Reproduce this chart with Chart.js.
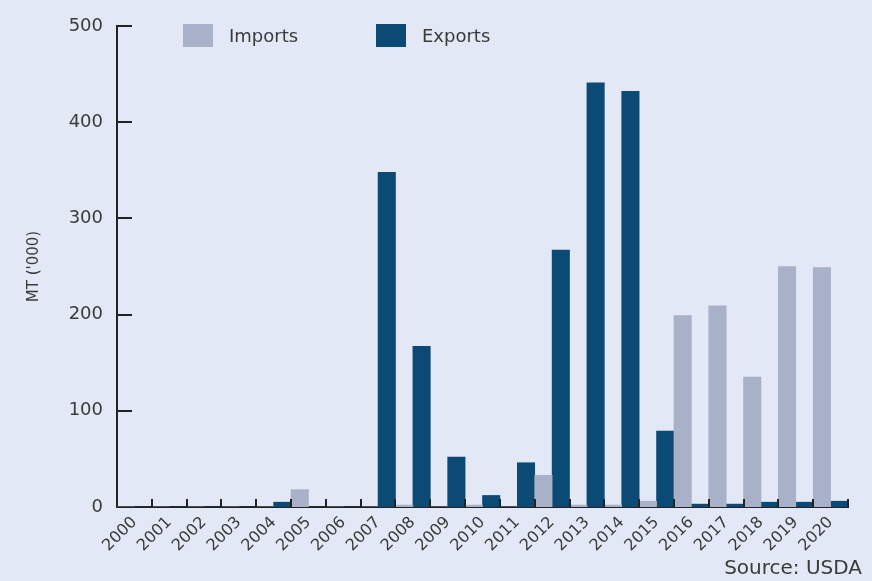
<!DOCTYPE html>
<html>
<head>
<meta charset="utf-8">
<script src="https://cdn.jsdelivr.net/npm/chart.js@4.4.0/dist/chart.umd.min.js"></script>
<style>
  html,body{margin:0;padding:0;background:#e2e8f6;}
  .wrap{position:relative;width:872px;height:581px;background:#e2e8f6;font-family:"DejaVu Sans",sans-serif;color:#3a3a3a;}
  canvas{position:absolute;left:0;top:0;}
  .legend{position:absolute;top:24px;left:183px;display:flex;align-items:center;font-size:18px;}
  .legend__item{display:flex;align-items:center;}
  .legend__swatch{display:inline-block;width:30px;height:23px;margin-right:16px;}
  .source{position:absolute;right:10px;top:555px;font-size:20px;}
</style>
</head>
<body>
<div class="wrap">
  <canvas id="chart" width="872" height="581"></canvas>
  <div class="legend" id="legend"></div>
  <div class="source">Source: USDA</div>
</div>
<script>
// ======== DATA ========
const years = ['2000','2001','2002','2003','2004','2005','2006','2007','2008','2009','2010',
               '2011','2012','2013','2014','2015','2016','2017','2018','2019','2020'];
const imports = [0,0,0,0,0,18,0,0,2,0,2,0,33,2,2,6,199,209,135,250,249];
const exports = [0,0,0,0,5,0,0,348,167,52,12,46,267,441,432,79,3,3,5,5,6];
const yTicks = [0,100,200,300,400,500];
const seriesNames = ['Imports','Exports'];
const colors = ['#a9b1c8','#0b4a74'];

// ======== custom inner tick marks ========
const innerTicks = {
  id: 'innerTicks',
  afterDraw(chart){
    const {ctx, chartArea, scales:{x, y}} = chart;
    ctx.save();
    ctx.strokeStyle = '#222';
    ctx.lineWidth = 2;
    // y ticks pointing right
    yTicks.forEach(v=>{
      if (v === 0) return;
      const py = Math.round(y.getPixelForValue(v));
      ctx.beginPath(); ctx.moveTo(chartArea.left, py); ctx.lineTo(chartArea.left + 15, py); ctx.stroke();
    });
    // x ticks at category boundaries pointing up
    const half = (x.getPixelForValue(1) - x.getPixelForValue(0)) / 2;
    years.forEach((_, i)=>{
      const px = Math.round(x.getPixelForValue(i) + half);
      ctx.beginPath(); ctx.moveTo(px, chartArea.bottom); ctx.lineTo(px, chartArea.bottom - 8); ctx.stroke();
    });
    ctx.restore();
  }
};

// ======== CHART ========
const chart = new Chart(document.getElementById('chart'), {
  type: 'bar',
  data: {
    labels: years,
    datasets: [
      { label: seriesNames[0], data: imports, backgroundColor: colors[0] },
      { label: seriesNames[1], data: exports, backgroundColor: colors[1] }
    ]
  },
  options: {
    responsive: false,
    animation: false,
    layout: { padding: { left: 25, right: 24, top: 26, bottom: 0 } },
    datasets: { bar: { categoryPercentage: 1, barPercentage: 1 } },
    plugins: { legend: { display: false }, tooltip: { enabled: false } },
    scales: {
      x: {
        grid: { display: false, drawTicks: false },
        border: { color: '#222', width: 2 },
        ticks: {
          color: '#3a3a3a', font: { family: 'DejaVu Sans', size: 16 },
          maxRotation: 45, minRotation: 45, padding: 6, autoSkip: false
        },
        afterFit: s => { s.height = 74; }
      },
      y: {
        min: 0, max: 500,
        afterBuildTicks: s => { s.ticks = yTicks.map(v => ({ value: v })); },
        grid: { display: false, drawTicks: false },
        border: { color: '#222', width: 2 },
        ticks: { color: '#3a3a3a', font: { family: 'DejaVu Sans', size: 18 }, padding: 14 },
        title: { display: true, text: "MT ('000)", color: '#3a3a3a', font: { family: 'DejaVu Sans', size: 15 }, padding: 0 },
        afterFit: s => { s.width = 92; }
      }
    }
  },
  plugins: [innerTicks]
});

// ======== LEGEND ========
const legend = document.getElementById('legend');
seriesNames.forEach((name, i)=>{
  const item = document.createElement('div'); item.className = 'legend__item';
  item.innerHTML = `<span class="legend__swatch" style="background:${colors[i]}"></span>${name}`;
  if (i === 0) item.style.width = '193px';
  legend.appendChild(item);
});
</script>
</body>
</html>
